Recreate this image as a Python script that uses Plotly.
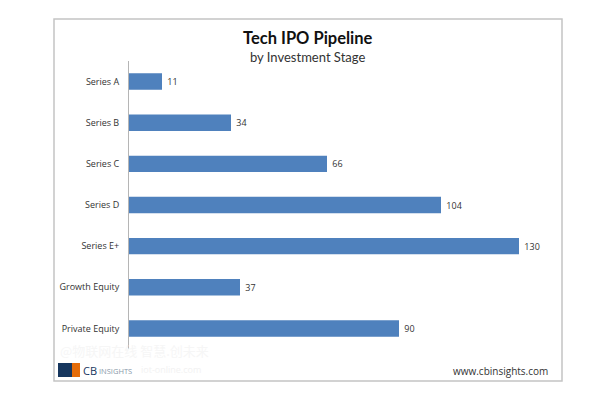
import plotly.graph_objects as go

categories = ["Series A", "Series B", "Series C", "Series D", "Series E+", "Growth Equity", "Private Equity"]
values = [11, 34, 66, 104, 130, 37, 90]
title = "<b>Tech IPO Pipeline</b>"
subtitle = "by Investment Stage"
site = "www.cbinsights.com"
W, H = 609, 407
L, R, T, B = 129, 54, 61, 58
PW, PH = W - L - R, H - T - B


def px(x):
    return (x - L) / PW


def py(y):
    return 1 - (y - T) / PH


fig = go.Figure(go.Bar(
    y=categories, x=values, orientation="h",
    marker=dict(color="#4f81bd", line=dict(width=0)),
    text=["\u00a0" + str(v) for v in values], textposition="outside",
    textfont=dict(family="Open Sans, Noto Sans, sans-serif", size=9, color="#333333"),
    cliponaxis=False, width=0.4,
))


def note(x, y, text, size, color="#222222", anchor="center", font="Open Sans, Noto Sans, sans-serif"):
    return dict(xref="paper", yref="paper", x=px(x), y=py(y), text=text, showarrow=False,
                xanchor=anchor, yanchor="middle",
                font=dict(family=font, size=size, color=color))


fig.update_layout(
    width=W, height=H, autosize=False, margin=dict(l=L, r=R, t=T, b=B, pad=0),
    paper_bgcolor="white", plot_bgcolor="white", showlegend=False,
    xaxis=dict(range=[0, PW / 3.0], visible=False, fixedrange=True),
    yaxis=dict(autorange="reversed", showgrid=False, zeroline=False, showline=True,
               linecolor="#b5b5b5", linewidth=1, ticks="", ticklabelstandoff=7,
               tickfont=dict(family="Open Sans, Noto Sans, sans-serif", size=9, color="#333333")),
    shapes=[
        dict(type="rect", xref="paper", yref="paper", x0=px(54), x1=px(562), y0=py(381), y1=py(19),
             line=dict(color="#c4c4c4", width=1.5), fillcolor="rgba(0,0,0,0)", layer="below"),
        dict(type="rect", xref="paper", yref="paper", x0=px(58), x1=px(72), y0=py(377), y1=py(363),
             line=dict(width=0), fillcolor="#17375e"),
        dict(type="rect", xref="paper", yref="paper", x0=px(72), x1=px(80), y0=py(377), y1=py(363),
             line=dict(width=0), fillcolor="#e46c0a"),
    ],
    annotations=[
        note(307.5, 38, title, 16.5, "#111111", font="Lato, Open Sans, sans-serif"),
        note(307, 57, subtitle, 13, "#333333", font="Lato, Open Sans, sans-serif"),
        note(500.5, 370.5, site, 10, "#333333"),
        note(81, 370, "CB", 11, "#17375e", "left"),
        note(97, 370.5, "INSIGHTS", 7.5, "#8a9aaa", "left"),
        note(58, 350, "@物联网在线 智慧.创未来", 13, "#f6f6f6", "left", "Noto Sans CJK SC"),
        note(139, 369, "iot-online.com", 9, "#f2f2f2", "left"),
    ],
)
fig.write_html("out.html", post_script="document.body.style.margin='0';",
               config={"displayModeBar": False})
